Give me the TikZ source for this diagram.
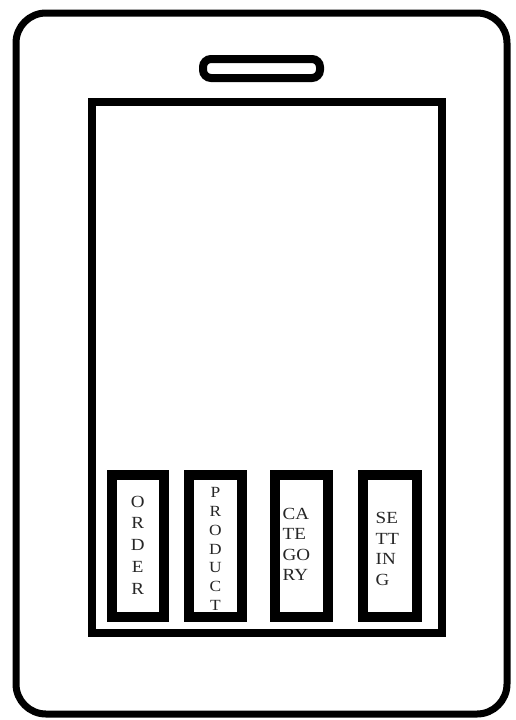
\documentclass[tikz,border=0pt]{standalone}
\usepackage{fontspec}
\setmainfont{Liberation Serif}
\newfontfamily\lblfont[FakeStretch=1.12]{Liberation Serif}
\begin{document}
\begin{tikzpicture}[x=1pt,y=-1pt,
  phone/.style={draw=black,line width=7pt,rounded corners=30pt},
  slot/.style={draw=black,line width=8pt,rounded corners=8pt},
  screen/.style={draw=black,line width=8pt},
  btn/.style={draw=black,line width=10pt},
  lbl/.style={inner sep=0pt,text=black!85}]
\useasboundingbox (0,0) rectangle (516,720);
\fill[white] (0,0) rectangle (516,720);
\draw[phone] (16,13) rectangle (507,714);
\draw[slot] (203,59) rectangle (320,78);
\draw[screen] (91.5,102) rectangle (442,633);
\draw[btn] (111.5,475) rectangle (164,617);
\draw[btn] (189,475) rectangle (242,617);
\draw[btn] (275,475) rectangle (328,617);
\draw[btn] (363,475) rectangle (417,617);
\node[lbl,align=center,font=\lblfont\fontsize{17}{21.7}\selectfont] (order) at (137.75,545) {O\\R\\D\\E\\R};
\node[lbl,align=center,font=\lblfont\fontsize{15.5}{18.8}\selectfont] (product) at (215.5,549) {P\\R\\O\\D\\U\\C\\T};
\node[lbl,align=left,anchor=west,font=\lblfont\fontsize{17}{20.5}\selectfont] (category) at (282.5,544.5) {CA\\TE\\GO\\RY};
\node[lbl,align=left,anchor=west,font=\lblfont\fontsize{17}{20.5}\selectfont] (setting) at (375.5,549) {SE\\TT\\IN\\G};
\end{tikzpicture}
\end{document}
